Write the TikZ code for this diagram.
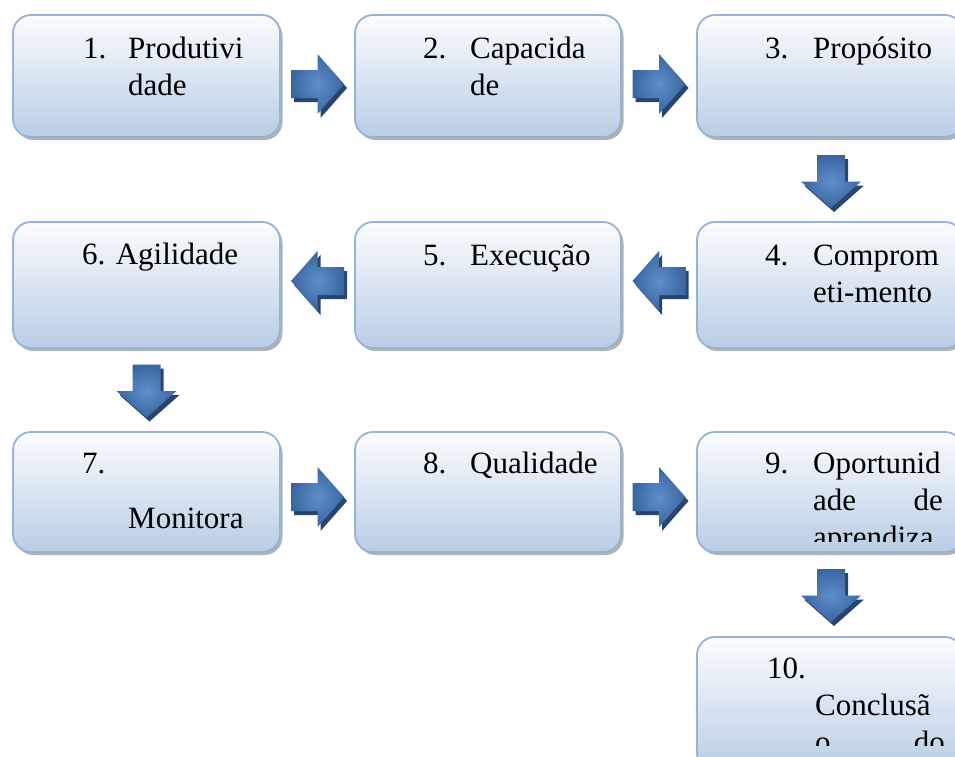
\documentclass[tikz,border=0pt]{standalone}
\usepackage{fontspec}
\setmainfont{Liberation Serif}
\newfontfamily\tnrfont{Liberation Serif}
\usetikzlibrary{calc,shadows}
\definecolor{boxtop}{HTML}{FBFCFE}
\definecolor{boxbot}{HTML}{B9CDE5}
\definecolor{boxline}{HTML}{95B3D7}
\definecolor{arrlight}{HTML}{5E8ECB}
\definecolor{arrdark}{HTML}{3A669E}
\definecolor{arrshadow}{HTML}{27466F}
\tikzset{
  stepbox/.style={rectangle, rounded corners=18pt, draw=boxline, line width=1.8pt,
    top color=boxtop, bottom color=boxbot, inner sep=0pt,
    drop shadow={shadow xshift=2.5pt, shadow yshift=-3pt, fill=black!55, opacity=0.55}},
  lbl/.style={anchor=base west, inner sep=0pt, font=\tnrfont\fontsize{31}{37}\selectfont},
  lble/.style={anchor=base east, inner sep=0pt, font=\tnrfont\fontsize{31}{37}\selectfont},
  pics/arrowbody/.style={code={
    \path[inner color=arrlight, outer color=arrdark]
      (-26.5,-14) -- (0,-14) -- (0,-30) -- (26.5,0) -- (0,30) -- (0,14) -- (-26.5,14) -- cycle;
  }},
  pics/arrowshade/.style={code={
    \fill[arrshadow]
      (-26.5,-14) -- (0,-14) -- (0,-30) -- (26.5,0) -- (0,30) -- (0,14) -- (-26.5,14) -- cycle;
  }},
}
\begin{document}
\begin{tikzpicture}[x=1pt,y=-1pt]
\useasboundingbox (0,0) rectangle (955,756);
\clip (0,0) rectangle (955,756);
% boxes
\node[stepbox, minimum width=267pt, minimum height=122pt] (b1) at (146.5,76) {};
\node[stepbox, minimum width=266pt, minimum height=122pt] (b2) at (488,76) {};
\node[stepbox, minimum width=266pt, minimum height=122pt] (b3) at (830,76) {};
\node[stepbox, minimum width=266pt, minimum height=126pt] (b4) at (830,285) {};
\node[stepbox, minimum width=266pt, minimum height=126pt] (b5) at (488,285) {};
\node[stepbox, minimum width=267pt, minimum height=126pt] (b6) at (146.5,285) {};
\node[stepbox, minimum width=267pt, minimum height=120pt] (b7) at (146.5,492) {};
\node[stepbox, minimum width=266pt, minimum height=120pt] (b8) at (488,492) {};
\node[stepbox, minimum width=266pt, minimum height=120pt] (b9) at (830,492) {};
\node[stepbox, minimum width=266pt, minimum height=134pt] (b10) at (830,704) {};
% block arrows
\coordinate (a12) at ($($(b1.east)!0.5!(b2.west)$)+(0,8)$);
\coordinate (a23) at ($($(b2.east)!0.5!(b3.west)$)+(0,8)$);
\coordinate (a34) at ($($(b3.south)!0.5!(b4.north)$)+(1,2)$);
\coordinate (a45) at ($($(b4.west)!0.5!(b5.east)$)+(0,-4)$);
\coordinate (a56) at ($($(b5.west)!0.5!(b6.east)$)+(0,-4)$);
\coordinate (a67) at ($($(b6.south)!0.5!(b7.north)$)+(0,1)$);
\coordinate (a78) at ($($(b7.east)!0.5!(b8.west)$)+(0,5)$);
\coordinate (a89) at ($($(b8.east)!0.5!(b9.west)$)+(0,5)$);
\coordinate (a910) at ($($(b9.south)!0.5!(b10.north)$)+(1,1)$);
\foreach \c/\r in {a12/0, a23/0, a34/-90, a45/180, a56/180, a67/-90, a78/0, a89/0, a910/-90}{
  \pic[rotate=\r] at ($(\c)+(3,4)$) {arrowshade};
  \pic[rotate=\r] at (\c) {arrowbody};
}
% texts
\node[lbl] (t1n) at (83,58) {1.};
\node[lbl] (t1a) at (128,58) {Produtivi};
\node[lbl] (t1b) at (128,95) {dade};
\node[lbl] (t2n) at (423,58) {2.};
\node[lbl] (t2a) at (470,58) {Capacida};
\node[lbl] (t2b) at (470,95) {de};
\node[lbl] (t3n) at (765,58) {3.};
\node[lbl] (t3a) at (813,58) {Propósito};
\node[lbl] (t4n) at (765,265) {4.};
\node[lbl] (t4a) at (813,265) {Comprom};
\node[lbl] (t4b) at (813,302) {eti-mento};
\node[lbl] (t5n) at (423,265) {5.};
\node[lbl] (t5a) at (470,265) {Execução};
\node[lbl] (t6a) at (82,264) {6. Agilidade};
\node[lbl] (t7n) at (82,473) {7.};
\node[lbl] (t7a) at (128,528) {Monitora};
\node[lbl] (t8n) at (423,473) {8.};
\node[lbl] (t8a) at (470,473) {Qualidade};
\node[lbl] (t9n) at (765,473) {9.};
\node[lbl] (t9a) at (813,473) {Oportunid};
\node[lbl] (t9b) at (813,510) {ade};
\node[lble] (t9c) at (943,510) {de};
\begin{scope}
  \clip (697,432) rectangle (963,541);
  \node[lbl] (t9d) at (813,547) {aprendiza};
\end{scope}
\node[lbl] (t10n) at (767,678) {10.};
\node[lbl] (t10a) at (815,715) {Conclusã};
\begin{scope}
  \clip (697,637) rectangle (963,745);
  \node[lbl] (t10b) at (815,752) {o};
  \node[lble] (t10c) at (945,752) {do};
\end{scope}
\end{tikzpicture}
\end{document}
